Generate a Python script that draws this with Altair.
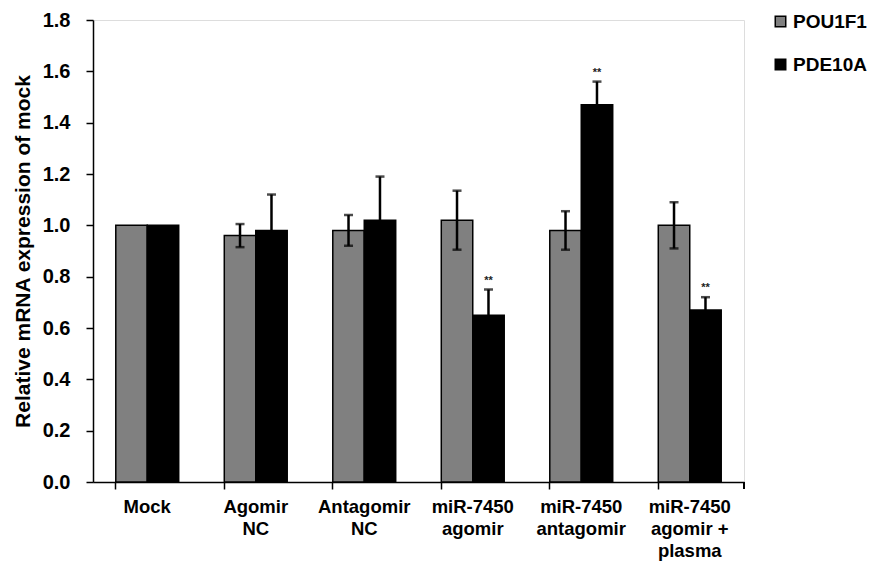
import altair as alt
import pandas as pd

categories = ["Mock", "Agomir NC", "Antagomir NC", "miR-7450 agomir",
              "miR-7450 antagomir", "miR-7450 agomir + plasma"]
label_lines = ["Mock", "Agomir|NC", "Antagomir|NC", "miR-7450|agomir",
               "miR-7450|antagomir", "miR-7450|agomir +|plasma"]
series = ["POU1F1", "PDE10A"]
pou1f1_vals = [1.00, 0.96, 0.98, 1.02, 0.98, 1.00]
pou1f1_err = [0.0, 0.045, 0.06, 0.115, 0.075, 0.09]
pde10a_vals = [1.00, 0.98, 1.02, 0.65, 1.47, 0.67]
pde10a_err = [0.0, 0.14, 0.17, 0.10, 0.09, 0.05]
pde10a_sig = ["", "", "", "**", "**", "**"]

rows = []
for i, c in enumerate(categories):
    rows.append({"cat": label_lines[i], "series": "POU1F1", "val": pou1f1_vals[i],
                 "err": pou1f1_err[i], "sig": ""})
    rows.append({"cat": label_lines[i], "series": "PDE10A", "val": pde10a_vals[i],
                 "err": pde10a_err[i], "sig": pde10a_sig[i]})
df = pd.DataFrame(rows)
df["lo"] = df["val"] - df["err"]
df["hi"] = df["val"] + df["err"]

FONT = "Liberation Sans"

x_enc = alt.X("cat:N", sort=label_lines, title=None,
              scale=alt.Scale(paddingInner=0.42, paddingOuter=0.21),
              axis=alt.Axis(labelExpr="split(datum.label, '|')", labelAngle=0,
                            bandPosition=0, labelFont=FONT, labelFontSize=18.5,
                            labelFontWeight="bold", labelColor="black",
                            labelPadding=8, labelLineHeight=22,
                            domainColor="black", domainWidth=1.5,
                            tickColor="black", tickWidth=1.5, tickSize=7))
xo = alt.XOffset("series:N", sort=series, scale=alt.Scale(paddingInner=0, paddingOuter=0))

base = alt.Chart(df)

bars = base.mark_bar(stroke="black", strokeWidth=1.5).encode(
    x=x_enc,
    xOffset=xo,
    y=alt.Y("val:Q", title="Relative mRNA expression of mock",
            scale=alt.Scale(domain=[0, 1.8], nice=False),
            axis=alt.Axis(values=[0, 0.2, 0.4, 0.6, 0.8, 1.0, 1.2, 1.4, 1.6, 1.8],
                          format=".1f", grid=False, labelFont=FONT, labelFontSize=20,
                          labelFontWeight="bold", labelColor="black",
                          titleFont=FONT, titleFontSize=21, titleFontWeight="bold",
                          titleColor="black", titlePadding=9,
                          domainColor="black", domainWidth=1.5,
                          tickColor="black", tickWidth=1.5, tickSize=7,
                          labelPadding=16)),
    color=alt.Color("series:N", sort=series,
                    scale=alt.Scale(domain=series, range=["#808080", "#000000"]),
                    legend=alt.Legend(title=None, orient="none", legendX=678, legendY=-8,
                                      symbolType="square", symbolSize=110,
                                      symbolStrokeColor="black", symbolStrokeWidth=1.5,
                                      labelFont=FONT, labelFontSize=19,
                                      labelFontWeight="bold", labelColor="black",
                                      rowPadding=23, labelOffset=3)),
)

eb = base.transform_filter("datum.err > 0")
rules = eb.mark_rule(color="black", strokeWidth=2.5).encode(
    x=alt.X("cat:N", sort=label_lines), xOffset=xo,
    y=alt.Y("lo:Q"), y2="hi:Q")
caps_hi = eb.mark_tick(color="black", thickness=2.5, size=9).encode(
    x=alt.X("cat:N", sort=label_lines), xOffset=xo, y="hi:Q")
caps_lo = eb.mark_tick(color="black", thickness=2.5, size=9).encode(
    x=alt.X("cat:N", sort=label_lines), xOffset=xo, y="lo:Q")
stars = base.transform_filter("datum.sig != ''").mark_text(
    font=FONT, fontSize=11, fontWeight="bold", color="#222222", dy=-9).encode(
    x=alt.X("cat:N", sort=label_lines), xOffset=xo, y="hi:Q", text="sig:N")

last_tick = alt.Chart(df).mark_rule(color="black", strokeWidth=1.5).encode(
    x=alt.value(651), y=alt.value(462), y2=alt.value(469))

chart = alt.layer(bars, rules, caps_hi, caps_lo, stars, last_tick).properties(
    width=651, height=462,
    autosize=alt.AutoSizeParams(type="none"),
    padding={"left": 85, "top": 12, "right": 128, "bottom": 80},
).configure_view(stroke=None).configure(background="white")

chart.save("out.html", embed_options={"renderer": "svg", "actions": False})
